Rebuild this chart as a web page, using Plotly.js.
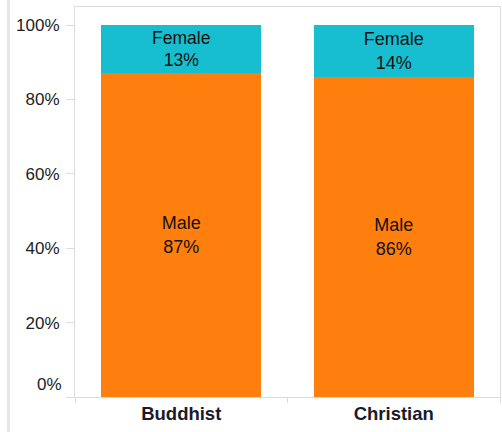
<!DOCTYPE html>
<html>
<head>
<meta charset="utf-8">
<script src="https://cdn.plot.ly/plotly-3.0.1.min.js"></script>
<style>
  html, body { margin: 0; padding: 0; background: #fff; }
  #chart { width: 502px; height: 432px; position: relative; }
  #edge { position: absolute; left: 7px; top: 0; width: 3px; height: 432px; background: #e6e6e6; z-index: 5; }
</style>
</head>
<body>
<div id="chart"><div id="edge"></div></div>
<script>
const categories = ['Buddhist', 'Christian'];
const maleValues = [87, 86];
const femaleValues = [13, 14];
const yTickValues = [0, 20, 40, 60, 80, 100];
const yTickLabels = ['', '20%', '40%', '60%', '80%', '100%'];
const zeroLabel = '0%';

const textFont = { family: 'Liberation Sans, Arial, sans-serif', size: 18, color: '#111' };

const traces = [
  {
    type: 'bar', name: 'Male', x: categories, y: maleValues,
    marker: { color: '#ff7f0e' },
    text: maleValues.map(v => 'Male<br>' + v + '%'),
    textposition: 'inside', insidetextanchor: 'middle',
    textfont: textFont, hoverinfo: 'none'
  },
  {
    type: 'bar', name: 'Female', x: categories, y: femaleValues,
    marker: { color: '#17becf' },
    text: femaleValues.map(v => 'Female<br>' + v + '%'),
    textposition: 'inside', insidetextanchor: 'middle',
    textfont: textFont, hoverinfo: 'none'
  }
];

const layout = {
  width: 502, height: 432,
  margin: { l: 75, r: 2, t: 7, b: 35, pad: 0 },
  barmode: 'stack', bargap: 0.247,
  showlegend: false,
  paper_bgcolor: '#fff', plot_bgcolor: '#fff',
  font: { family: 'Liberation Sans, Arial, sans-serif', color: '#222' },
  xaxis: {
    type: 'category',
    showline: true, mirror: true, linecolor: '#dcdcdc', linewidth: 1,
    ticks: 'outside', tickson: 'boundaries', ticklen: 5, tickcolor: '#dcdcdc',
    tickfont: { size: 18.5, color: '#1a1a2a', weight: 'bold' },
    showgrid: false, zeroline: false
  },
  yaxis: {
    range: [0, 104.84],
    tickvals: yTickValues, ticktext: yTickLabels,
    showline: true, mirror: true, linecolor: '#dcdcdc', linewidth: 1,
    ticks: 'outside', ticklen: 8, tickcolor: '#dcdcdc',
    ticklabelstandoff: 3,
    tickfont: { size: 17, color: '#222' },
    showgrid: false, zeroline: false
  },
  annotations: [{
    xref: 'paper', yref: 'y', x: 0, y: 0,
    xanchor: 'right', yanchor: 'middle',
    xshift: -11, yshift: 13,
    text: zeroLabel, showarrow: false,
    font: { size: 17, color: '#222' }
  }]
};

Plotly.newPlot('chart', traces, layout, { displayModeBar: false, staticPlot: true });
</script>
</body>
</html>
